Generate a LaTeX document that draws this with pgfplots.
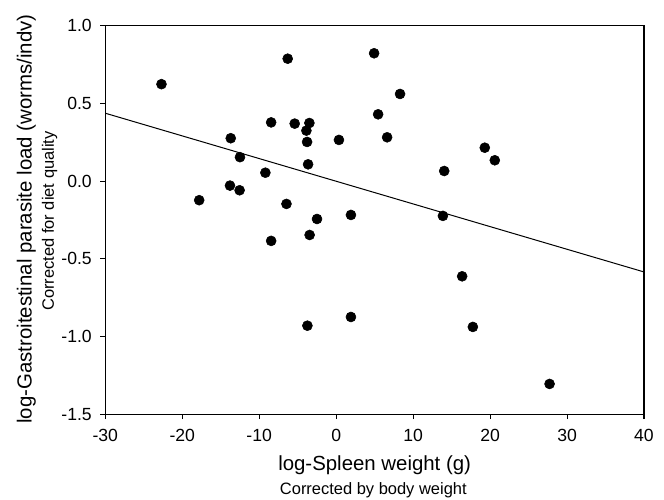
\documentclass[border=0pt]{standalone}
\usepackage{pgfplots}
\usepackage{pgfplotstable}
\pgfplotsset{compat=1.18}
\usepackage{fontspec}
\setmainfont{Liberation Sans}

% spleen weight vs parasite load, both corrected
\pgfplotstableread{
x y
-22.7 0.625
-17.8 -0.122
-13.7 0.277
-12.5 0.155
-13.8 -0.028
-12.55 -0.058
-9.2 0.055
-8.45 0.379
-8.45 -0.384
-6.3 0.789
-6.46 -0.146
-5.39 0.371
-3.48 0.375
-3.87 0.326
-3.78 0.253
-3.65 0.109
-3.45 -0.346
-2.49 -0.243
-3.74 -0.930
0.36 0.266
1.92 -0.217
1.92 -0.874
4.93 0.824
5.45 0.431
6.62 0.283
8.3 0.562
13.87 -0.223
14.04 0.066
16.37 -0.612
17.76 -0.938
19.31 0.216
20.61 0.135
27.73 -1.305
}\spleen

\begin{document}
\begin{tikzpicture}
    \begin{axis}[
            at={(0,0)}, anchor=south west,
            scale only axis,
            width=404pt, height=291.2pt,
            xmin=-30, xmax=40,
            ymin=-1.5, ymax=1.0,
            xtick={-30,-20,...,40},
            ytick={-1.5,-1.0,...,1.0},
            tick pos=left,
            tick align=outside,
            major tick length=3.75pt,
            axis line style={line width=0.8pt},
            every tick/.style={black, line width=0.8pt},
            /pgf/number format/assume math mode=true,
            yticklabel style={/pgf/number format/fixed, /pgf/number format/fixed zerofill, /pgf/number format/precision=1},
            ticklabel style={font=\fontsize{13.2}{15}\selectfont},
            xticklabel style={anchor=base, yshift=-16.9pt},
            yticklabel style={anchor=east, inner sep=0pt, xshift=-6.2pt},
            clip=false,
        ]
        \addplot[only marks, mark=*, mark size=3.75pt, black] table[x=x, y=y] {\spleen};
        \addplot[black, line width=0.75pt] coordinates {(-30,0.438) (40,-0.584)};
    \end{axis}

    % axis titles, two lines each
    \node[anchor=base, font=\fontsize{15.3}{18}\selectfont] at (202pt,-41.85pt) {log-Spleen weight (g)};
    \node[anchor=base, font=\fontsize{12.35}{15}\selectfont] at (201pt,-59.85pt) {Corrected by body weight};
    \node[anchor=base, rotate=90, font=\fontsize{15.3}{18}\selectfont] at (-55.35pt,146.4pt) {log-Gastroitestinal parasite load (worms/indv)};
    \node[anchor=base, rotate=90, font=\fontsize{12.35}{15}\selectfont] at (-38.6pt,144.9pt) {Corrected for diet quality};

    \pgfresetboundingbox
    \path (-78.975pt,-63.6pt) rectangle (419pt,310.65pt);
\end{tikzpicture}
\end{document}
